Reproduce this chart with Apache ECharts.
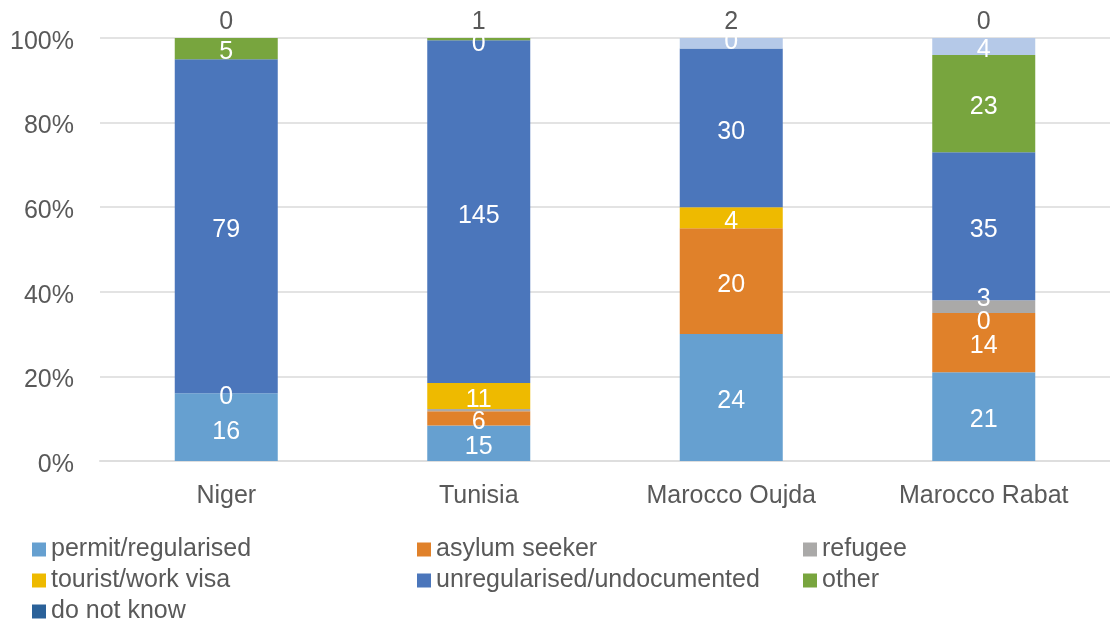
<!DOCTYPE html>
<html>
<head>
<meta charset="utf-8">
<script src="https://cdn.jsdelivr.net/npm/echarts@6/dist/echarts.min.js"></script>
<style>html,body{margin:0;padding:0;background:#fff}#c{width:1110px;height:622px}</style>
</head>
<body>
<div id="c"></div>
<script>
const categories = ['Niger', 'Tunisia', 'Marocco Oujda', 'Marocco Rabat'];
const yTicks = ['0%', '20%', '40%', '60%', '80%', '100%'];
const permit   = [16, 15, 24, 21];
const asylum   = [0, 6, 20, 14];
const refugee  = [0, 1, 0, 3];
const tourist  = [0, 11, 4, 0];
const undoc    = [79, 145, 30, 35];
const other    = [5, 1, 0, 23];
const dontKnow = [0, 0, 2, 4];
const blank    = [0, 0, 0, 0];

const seriesDefs = [
  {name: 'permit/regularised', values: permit, color: '#66a0d0'},
  {name: 'asylum seeker', values: asylum, color: '#e0812a'},
  {name: 'refugee', values: refugee, color: '#aaa9a8'},
  {name: 'tourist/work visa', values: tourist, color: '#eeba00'},
  {name: 'unregularised/undocumented', values: undoc, color: '#4b76bb'},
  {name: 'other', values: other, color: '#78a53e'},
  {name: 'do not know', values: dontKnow, color: '#b5c9e8', legendColor: '#2a6199'},
  {name: ' ', values: blank, color: 'transparent'}
];
const visibleCount = 7;
const totals = categories.map((c, i) => seriesDefs.slice(0, visibleCount).reduce((s, d) => s + d.values[i], 0));

// label placement tweaks: key "series|category"
const hidden = new Set(['2|0','3|0','2|1','2|2','6|0','7|1','7|2']);
const topGrey = new Set(['5|1','6|2','7|3','7|0']);
const offsets = {'6|1': [0, 6], '2|3': [0, -7], '3|3': [0, 22], '1|0': [0, 4], '5|2': [0, -6], '0|0': [0, 5]};
const baseOffset = [0, 4];

const FONT = 'Liberation Sans, Arial, sans-serif';
const FS = 25;
const series = seriesDefs.map((d, si) => ({
  name: d.name,
  type: 'bar',
  stack: 'all',
  barWidth: 103,
  itemStyle: {color: d.color},
  emphasis: {disabled: true},
  data: d.values.map((v, ci) => {
    const key = si + '|' + ci;
    const pct = totals[ci] ? v / totals[ci] * 100 : 0;
    const item = {value: pct, raw: v};
    if (hidden.has(key)) {
      item.label = {show: false};
    } else if (topGrey.has(key)) {
      item.label = {show: true, position: 'top', distance: 3, color: '#595959'};
    } else {
      item.label = {show: true, position: 'inside', color: '#ffffff', offset: offsets[key] || baseOffset};
    }
    return item;
  }),
  label: {
    show: true,
    fontFamily: FONT,
    fontSize: FS,
    formatter: p => String(p.data.raw)
  }
}));

const legendStyle = {fontFamily: FONT, fontSize: FS, color: '#595959', lineHeight: 24};
function legendCol(names, left) {
  return {
    orient: 'vertical', left: left, top: 532, height: 100,
    itemWidth: 14, itemHeight: 14, itemGap: 6, icon: 'rect',
    textStyle: legendStyle, selectedMode: false,
    data: names.map(n => {
      const d = seriesDefs.find(s => s.name === n);
      return {name: n, itemStyle: {color: d.legendColor || d.color}};
    })
  };
}

const chart = echarts.init(document.getElementById('c'), null, {renderer: 'canvas'});
chart.setOption({
  animation: false,
  backgroundColor: '#ffffff',
  grid: {left: 100, top: 38, width: 1017, height: 423, containLabel: false},
  xAxis: {
    type: 'category', data: categories,
    axisLine: {lineStyle: {color: '#dedede', width: 2}},
    axisTick: {show: false},
    axisLabel: {fontFamily: FONT, fontSize: FS, color: '#595959', margin: 23}
  },
  yAxis: {
    type: 'value', min: 0, max: 100, interval: 20,
    axisLine: {show: false}, axisTick: {show: false},
    splitLine: {lineStyle: {color: '#e3e3e3', width: 2}},
    axisLabel: {fontFamily: FONT, fontSize: FS, color: '#595959', margin: 26,
      verticalAlign: 'top', lineHeight: 8,
      formatter: v => yTicks[Math.round(v / 20)]}
  },
  legend: [
    legendCol(['permit/regularised', 'tourist/work visa', 'do not know'], 27),
    legendCol(['asylum seeker', 'unregularised/undocumented'], 412),
    legendCol(['refugee', 'other'], 798)
  ],
  series: series
});
</script>
</body>
</html>
